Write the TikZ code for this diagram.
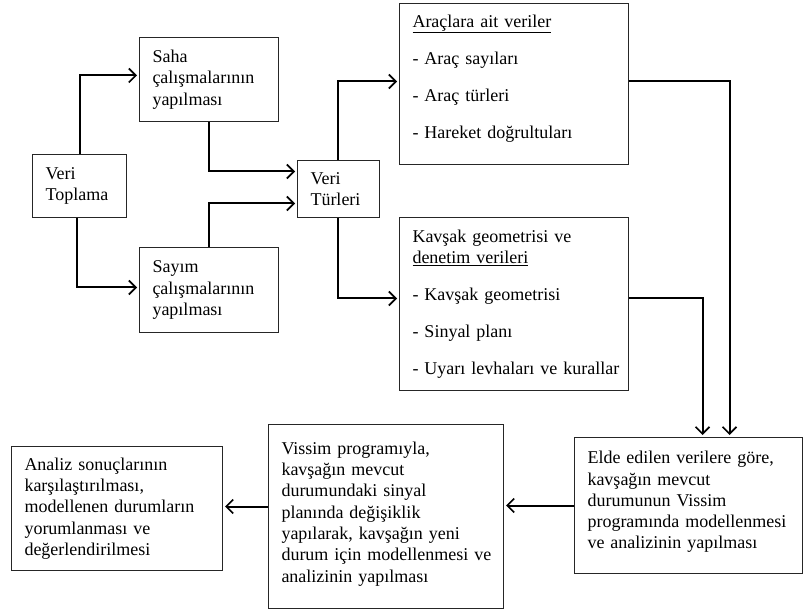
\documentclass[tikz,border=0pt]{standalone}
\usepackage{fontspec}
\setmainfont{Liberation Serif}
\usetikzlibrary{arrows.meta,calc}
\begin{document}
\begin{tikzpicture}[x=1pt,y=-1pt,
  box/.style={draw=black!85, line width=1pt, inner xsep=13pt, inner ysep=0pt,
    align=left, anchor=north west, font=\fontsize{18}{21.3}\selectfont},
  arr/.style={line width=2pt, shorten >=2pt, -{Straight Barb[length=7pt,width=14pt,line width=1.7pt]}}]
\useasboundingbox (0,0) rectangle (803,612);

\node[box, minimum width=94pt, text width=68pt, minimum height=63pt] (vt) at (32,154) {Veri\\Toplama};
\node[box, minimum width=139pt, text width=113pt, minimum height=84pt] (saha) at (139,37) {Saha\\çalışmalarının\\yapılması};
\node[box, minimum width=139pt, text width=113pt, minimum height=85pt] (sayim) at (139,247) {Sayım\\çalışmalarının\\yapılması};
\node[box, minimum width=82pt, text width=56pt, minimum height=57pt] (tur) at (297,160) {Veri\\Türleri};
\node[box, minimum width=229pt, text width=203pt, minimum height=161pt, text depth=126pt] (arac) at (399,3)
  {\underline{Araçlara ait veriler}\\[15.7pt]\mbox{- Araç sayıları}\\[15.7pt]\mbox{- Araç türleri}\\[15.7pt]\mbox{- Hareket doğrultuları}};
\node[box, minimum width=229pt, text width=203pt, minimum height=173pt] (kav) at (399,217)
  {\mbox{Kavşak geometrisi ve}\\\underline{denetim verileri}\\[15.5pt]\mbox{- Kavşak geometrisi}\\[15.5pt]\mbox{- Sinyal planı}\\[15.5pt]\mbox{- Uyarı levhaları ve kurallar}};
\node[box, minimum width=228pt, text width=202pt, minimum height=136pt, text depth=96pt] (elde) at (574,437)
  {\mbox{Elde edilen verilere göre,}\\\mbox{kavşağın mevcut}\\\mbox{durumunun Vissim}\\\mbox{programında modellenmesi}\\\mbox{ve analizinin yapılması}};
\node[box, minimum width=235pt, text width=209pt, minimum height=184pt, text depth=137pt] (vissim) at (268,424)
  {\mbox{Vissim programıyla,}\\\mbox{kavşağın mevcut}\\\mbox{durumundaki sinyal}\\\mbox{planında değişiklik}\\\mbox{yapılarak, kavşağın yeni}\\\mbox{durum için modellenmesi ve}\\\mbox{analizinin yapılması}};
\node[box, minimum width=211pt, text width=185pt, minimum height=124pt] (analiz) at (11,446)
  {\mbox{Analiz sonuçlarının}\\\mbox{karşılaştırılması,}\\\mbox{modellenen durumların}\\\mbox{yorumlanması ve}\\\mbox{değerlendirilmesi}};

\draw[arr] (vt.north) |- ([yshift=4pt]saha.west);
\draw[arr] ([xshift=-3pt]vt.south) |- ([yshift=2.5pt]sayim.west);
\draw[arr] (saha.south) |- ([yshift=17.5pt]tur.west);
\draw[arr] (sayim.north) |- ([yshift=-14.5pt]tur.west);
\draw[arr] ([xshift=-1pt]tur.north) |- ([yshift=2.5pt]arac.west);
\draw[arr] ([xshift=-1pt]tur.south) |- ([yshift=5.5pt]kav.west);
\draw[arr] ([yshift=2.5pt]arac.east) -| ([xshift=41pt]elde.north);
\draw[arr] ([yshift=5.5pt]kav.east) -| ([xshift=14pt]elde.north);
\draw[arr] (elde.west) -- (elde.west -| vissim.east);
\draw[arr] ([yshift=2pt]vissim.west |- analiz.east) -- ([yshift=2pt]analiz.east);
\end{tikzpicture}
\end{document}
